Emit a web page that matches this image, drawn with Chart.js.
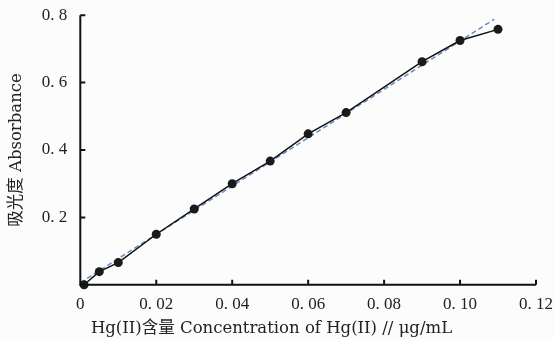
<!DOCTYPE html>
<html>
<head>
<meta charset="utf-8">
<script src="https://cdn.jsdelivr.net/npm/chart.js@4/dist/chart.umd.min.js"></script>
<style>
  body { margin: 0; background: #fcfcfc; }
  #wrap { width: 555px; height: 339px; }
</style>
</head>
<body>
<div id="wrap"><canvas id="absChart" width="555" height="339"></canvas></div>
<script>
// measured points, concentration (ug/mL) vs absorbance
var concentration = [0.001, 0.005, 0.01, 0.02, 0.03, 0.04, 0.05, 0.06, 0.07, 0.09, 0.10, 0.11];
var absorbance = [0.0, 0.039, 0.066, 0.150, 0.225, 0.300, 0.367, 0.448, 0.511, 0.662, 0.725, 0.758];
// fitted line, read from its two ends
var fitX = [0, 0.109];
var fitY = [0.006, 0.788];
var xTicks = [0, 0.02, 0.04, 0.06, 0.08, 0.10, 0.12];
var yTicks = [0, 0.2, 0.4, 0.6, 0.8];

var tickFont = "'Liberation Serif', 'Noto Sans CJK SC', serif";
var titleFont = "'DejaVu Serif', 'Noto Sans CJK SC', serif";

function fmt(v, digits) {
    if (Math.abs(v) < 1e-9) return '0';
    return v.toFixed(digits).replace('.', '. ');
}

// short tick marks pointing into the plot
var innerTicks = {
    id: 'innerTicks',
    afterDraw: function(chart) {
        var c = chart.ctx, a = chart.chartArea;
        var xs = chart.scales.x, ys = chart.scales.y;
        c.save();
        c.strokeStyle = '#111';
        c.lineWidth = 2;
        c.beginPath();
        c.moveTo(a.left, a.top);
        c.lineTo(a.left, a.bottom);
        c.lineTo(a.right, a.bottom);
        xTicks.forEach(function(t) {
            var px = xs.getPixelForValue(t);
            c.moveTo(px, a.bottom);
            c.lineTo(px, a.bottom - 5);
        });
        yTicks.forEach(function(t) {
            var py = ys.getPixelForValue(t);
            c.moveTo(a.left, py);
            c.lineTo(a.left + 5, py);
        });
        c.stroke();
        c.restore();
    }
};

var ctx = document.getElementById('absChart').getContext('2d');
var chart = new Chart(ctx, {
    type: 'scatter',
    data: {
        datasets: [{
            label: 'fit',
            data: fitX.map(function(x, i) { return { x: x, y: fitY[i] }; }),
            showLine: true,
            borderColor: '#6a8cc4',
            borderWidth: 1.5,
            borderDash: [5, 3],
            pointRadius: 0,
            clip: false,
            order: 2
        }, {
            label: 'measured',
            data: concentration.map(function(x, i) { return { x: x, y: absorbance[i] }; }),
            showLine: true,
            borderColor: '#111',
            borderWidth: 1.5,
            backgroundColor: '#1a1a1a',
            pointRadius: 4.5,
            pointBorderWidth: 0,
            clip: false,
            order: 1
        }]
    },
    options: {
        responsive: false,
        animation: false,
        layout: { padding: { top: 15, right: 19, left: 7, bottom: 0 } },
        plugins: {
            legend: { display: false },
            tooltip: { enabled: false },
            title: {
                display: true,
                position: 'bottom',
                text: 'Hg(II)含量 Concentration of Hg(II) // μg/mL',
                color: '#222',
                font: { family: titleFont, size: 16.5, weight: 'normal' },
                padding: { top: 2, bottom: 0 }
            }
        },
        scales: {
            x: {
                type: 'linear',
                min: 0,
                max: 0.12,
                border: { display: false },
                grid: { display: false },
                afterBuildTicks: function(s) { s.ticks = xTicks.map(function(v) { return { value: v }; }); },
                ticks: {
                    color: '#222',
                    padding: 2,
                    maxRotation: 0,
                    font: { family: tickFont, size: 17 },
                    callback: function(v) { return fmt(v, 2); }
                }
            },
            y: {
                type: 'linear',
                min: 0,
                max: 0.8,
                border: { display: false },
                grid: { display: false },
                afterBuildTicks: function(s) { s.ticks = yTicks.map(function(v) { return { value: v }; }); },
                ticks: {
                    color: '#222',
                    padding: 5,
                    font: { family: tickFont, size: 17 },
                    callback: function(v) { return v === 0 ? '' : fmt(v, 1); }
                },
                title: {
                    display: true,
                    text: '吸光度 Absorbance',
                    color: '#222',
                    font: { family: titleFont, size: 16.5 },
                    padding: { top: 0, bottom: 10 }
                }
            }
        }
    },
    plugins: [innerTicks]
});
</script>
</body>
</html>
